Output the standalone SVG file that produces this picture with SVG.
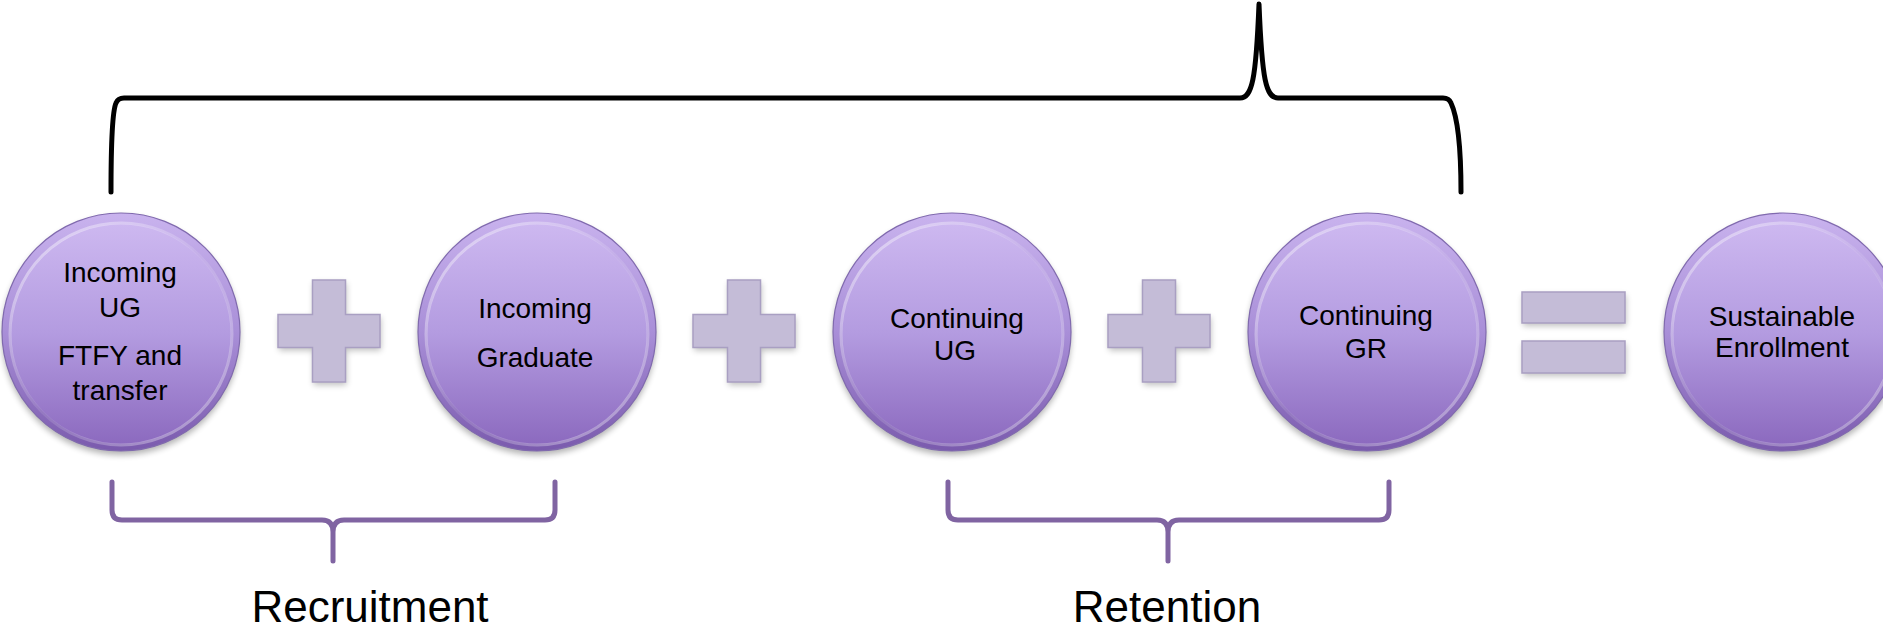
<svg xmlns="http://www.w3.org/2000/svg" width="1883" height="629" viewBox="0 0 1883 629">
<defs>
<linearGradient id="rim" x1="0" y1="0" x2="0" y2="1">
<stop offset="0" stop-color="#c9b3ee"/>
<stop offset="0.5" stop-color="#a98fd8"/>
<stop offset="1" stop-color="#7a5aad"/>
</linearGradient>
<linearGradient id="face" x1="0" y1="0" x2="0" y2="1">
<stop offset="0" stop-color="#cdb8f0"/>
<stop offset="0.5" stop-color="#b39be0"/>
<stop offset="1" stop-color="#8c6abf"/>
</linearGradient>
<linearGradient id="hl" x1="0" y1="0" x2="1" y2="1">
<stop offset="0" stop-color="#ffffff" stop-opacity="0.55"/>
<stop offset="0.5" stop-color="#ffffff" stop-opacity="0.1"/>
<stop offset="1" stop-color="#ffffff" stop-opacity="0.45"/>
</linearGradient>
<filter id="sh" x="-20%" y="-20%" width="140%" height="140%">
<feGaussianBlur stdDeviation="3"/>
</filter>
<g id="ball">
<circle cx="0" cy="4" r="119" fill="#000" opacity="0.3" filter="url(#sh)"/>
<circle cx="0" cy="0" r="119" fill="url(#rim)" stroke="#806aae" stroke-width="1.2"/>
<circle cx="0" cy="2" r="110" fill="url(#face)"/>
<circle cx="0" cy="2" r="111" fill="none" stroke="url(#hl)" stroke-width="3"/>
</g>
<g id="plus">
<polygon points="-16.5,-51 16.5,-51 16.5,-16.5 51,-16.5 51,16.5 16.5,16.5 16.5,51 -16.5,51 -16.5,16.5 -51,16.5 -51,-16.5 -16.5,-16.5" fill="#000" opacity="0.25" transform="translate(1,3)" filter="url(#sh)"/>
<polygon points="-16.5,-51 16.5,-51 16.5,-16.5 51,-16.5 51,16.5 16.5,16.5 16.5,51 -16.5,51 -16.5,16.5 -51,16.5 -51,-16.5 -16.5,-16.5" fill="#c4bcd7" stroke="#a99fc2" stroke-width="1.5"/>
</g>
</defs>
<style>
.t{font-family:"Liberation Sans",Arial,sans-serif;font-size:28px;fill:#000;text-anchor:middle}
.lbl{font-family:"Liberation Sans",Arial,sans-serif;font-size:44px;fill:#000;text-anchor:middle}
.bk{fill:none;stroke:#000;stroke-width:5;stroke-linejoin:round;stroke-linecap:round}
.pb{fill:none;stroke:#8064a2;stroke-width:5;stroke-linejoin:round;stroke-linecap:round}
.eq{fill:#c4bcd7;stroke:#a99fc2;stroke-width:1.5}
</style>
<g id="connectors">
<path class="bk" d="M111,192 C111,150 112,112 116,103 Q118,98 124,98 L1240,98 C1252,98 1256,80 1259,4 C1262,80 1266,98 1278,98 L1443,98 Q1449,98 1451,103 C1458,118 1461,150 1461,192"/>
<path class="pb" d="M112,482 L112,510 Q112,520 122,520 L322,520 Q333,520 333,532 L333,561 M333,532 Q333,520 344,520 L545,520 Q555,520 555,510 L555,482"/>
<path class="pb" d="M948,482 L948,510 Q948,520 958,520 L1157,520 Q1168,520 1168,532 L1168,561 M1168,532 Q1168,520 1179,520 L1379,520 Q1389,520 1389,510 L1389,482"/>
</g>
<g id="op-plus1"><use href="#plus" x="329" y="331"/></g>
<g id="op-plus2"><use href="#plus" x="744" y="331"/></g>
<g id="op-plus3"><use href="#plus" x="1159" y="331"/></g>
<g id="op-equals">
<rect x="1523" y="295" width="103" height="31" fill="#000" opacity="0.25" filter="url(#sh)"/>
<rect x="1523" y="344" width="103" height="32" fill="#000" opacity="0.25" filter="url(#sh)"/>
<rect class="eq" x="1522" y="292" width="103" height="31"/>
<rect class="eq" x="1522" y="341" width="103" height="32"/>
</g>
<g id="node-incoming-ug">
<use href="#ball" x="121" y="332"/>
<text class="t" x="120" y="282">Incoming</text>
<text class="t" x="120" y="317">UG</text>
<text class="t" x="120" y="365">FTFY and</text>
<text class="t" x="120" y="400">transfer</text>
</g>
<g id="node-incoming-grad">
<use href="#ball" x="537" y="332"/>
<text class="t" x="535" y="318">Incoming</text>
<text class="t" x="535" y="367">Graduate</text>
</g>
<g id="node-continuing-ug">
<use href="#ball" x="952" y="332"/>
<text class="t" x="957" y="328">Continuing</text>
<text class="t" x="955" y="360">UG</text>
</g>
<g id="node-continuing-gr">
<use href="#ball" x="1367" y="332"/>
<text class="t" x="1366" y="325">Continuing</text>
<text class="t" x="1366" y="358">GR</text>
</g>
<g id="node-sustainable">
<use href="#ball" x="1783" y="332"/>
<text class="t" x="1782" y="326">Sustainable</text>
<text class="t" x="1782" y="357">Enrollment</text>
</g>
<g id="labels">
<text class="lbl" x="370" y="622">Recruitment</text>
<text class="lbl" x="1167" y="622">Retention</text>
</g>
</svg>
